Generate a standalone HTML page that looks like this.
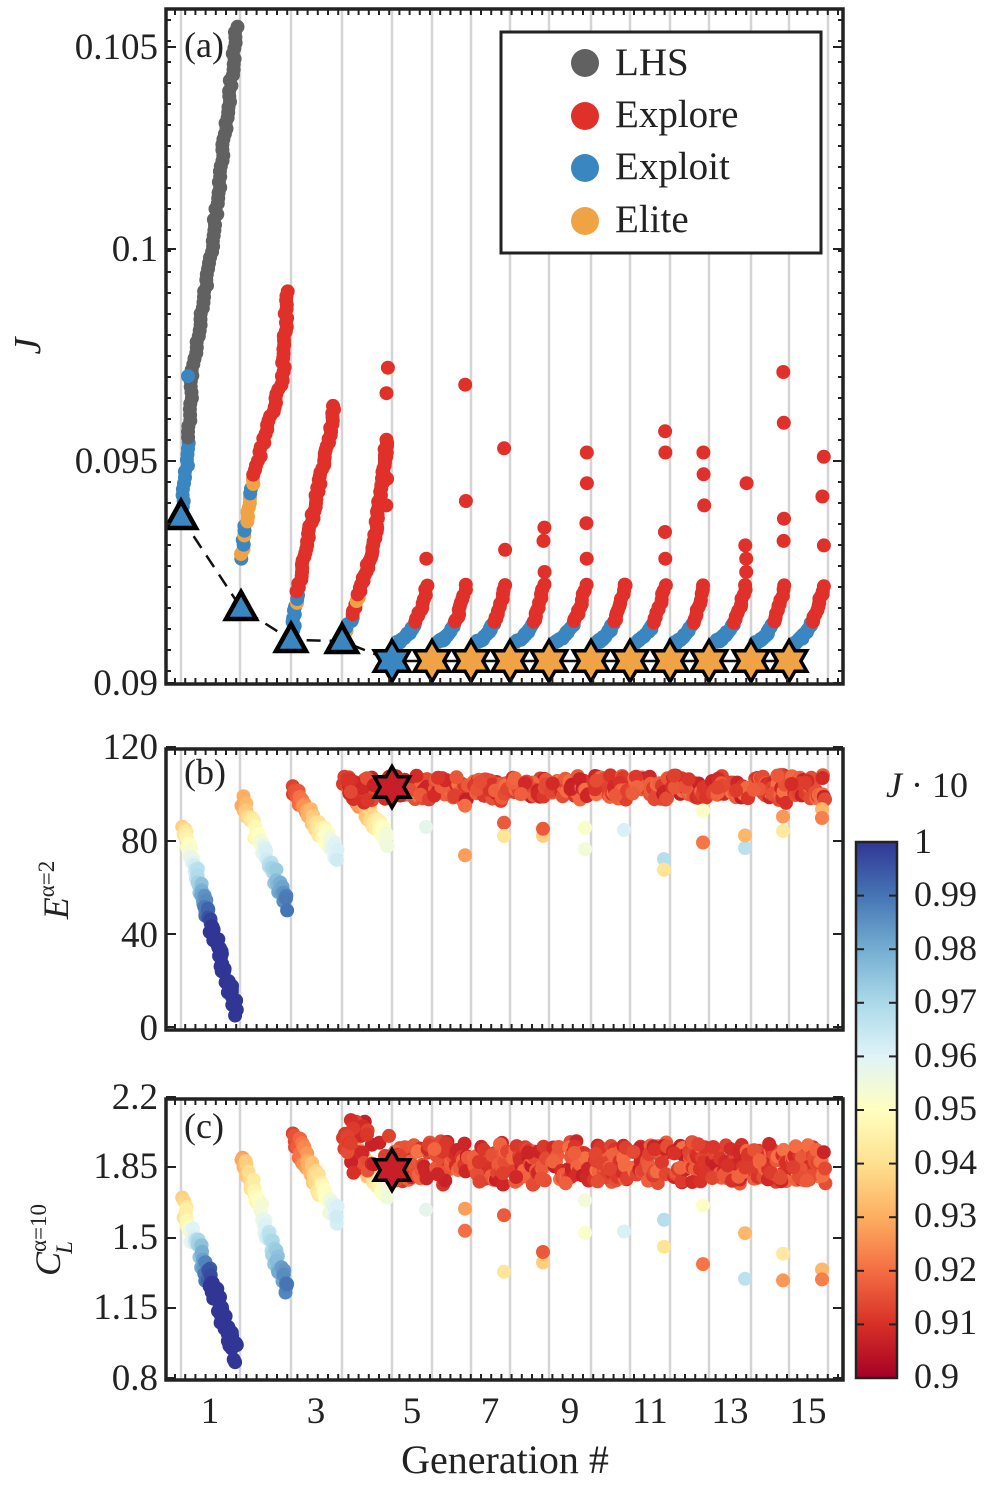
<!DOCTYPE html>
<html><head><meta charset="utf-8"><style>
body{margin:0;background:#fff}
svg text{font-family:"Liberation Serif",serif;fill:#222}
</style></head><body>
<svg id="s" width="996" height="1492" viewBox="0 0 996 1492" xmlns="http://www.w3.org/2000/svg">
<defs>
<linearGradient id="cb" x1="0" y1="1" x2="0" y2="0">
<stop offset="0" stop-color="#a50026"/><stop offset="0.1" stop-color="#d73027"/><stop offset="0.2" stop-color="#f46d43"/><stop offset="0.3" stop-color="#fdae61"/><stop offset="0.4" stop-color="#fee090"/><stop offset="0.5" stop-color="#ffffbf"/><stop offset="0.6" stop-color="#e0f3f8"/><stop offset="0.7" stop-color="#abd9e9"/><stop offset="0.8" stop-color="#74add1"/><stop offset="0.9" stop-color="#4575b4"/><stop offset="1" stop-color="#313695"/>
</linearGradient>
<clipPath id="ca"><rect x="166" y="9" width="677" height="675"/></clipPath>
<clipPath id="cbp"><rect x="166" y="749" width="677" height="281"/></clipPath>
<clipPath id="ccp"><rect x="166" y="1099" width="677" height="281"/></clipPath>
</defs>
<g id="grid"></g>
<g id="pa" clip-path="url(#ca)"></g>
<g id="pb" clip-path="url(#cbp)"></g>
<g id="pc" clip-path="url(#ccp)"></g>
<g id="frames" fill="none" stroke="#222" stroke-width="3.5">
<rect x="166" y="9" width="677" height="675"/>
<rect x="166" y="749" width="677" height="281"/>
<rect x="166" y="1099" width="677" height="281"/>
</g>
<g id="ticks" stroke="#222" stroke-width="2"></g>
<g font-size="37" text-anchor="end">
<text x="158" y="59">0.105</text><text x="158" y="261">0.1</text><text x="158" y="473">0.095</text><text x="158" y="695">0.09</text>
<text x="158" y="759">120</text><text x="158" y="853">80</text><text x="158" y="947">40</text><text x="158" y="1040">0</text>
<text x="158" y="1109">2.2</text><text x="158" y="1178">1.85</text><text x="158" y="1249">1.5</text><text x="158" y="1319">1.15</text><text x="158" y="1390">0.8</text>
</g>
<g font-size="37" text-anchor="middle">
<text x="210" y="1423">1</text><text x="316" y="1423">3</text><text x="412" y="1423">5</text><text x="490" y="1423">7</text><text x="570" y="1423">9</text><text x="650" y="1423">11</text><text x="730" y="1423">13</text><text x="808" y="1423">15</text>
<text x="505" y="1473" font-size="40">Generation #</text>
</g>
<text x="0" y="0" font-size="38" font-style="italic" transform="translate(40,346) rotate(-90)" text-anchor="middle">J</text>
<text font-size="36" transform="translate(68,890) rotate(-90)" text-anchor="middle"><tspan font-style="italic">E</tspan><tspan font-size="23" dy="-14">α=2</tspan></text>
<text font-size="36" transform="translate(60,1240) rotate(-90)" text-anchor="middle"><tspan font-style="italic">C</tspan><tspan font-size="23" dy="-14">α=10</tspan><tspan font-size="23" font-style="italic" dx="-50" dy="26">L</tspan></text>
<g font-size="36"><text x="184" y="57">(a)</text><text x="184" y="784">(b)</text><text x="184" y="1138">(c)</text></g>
<rect x="501" y="32" width="320" height="221" fill="#fff" stroke="#222" stroke-width="3"/>
<g font-size="39">
<circle cx="585" cy="63" r="14" fill="#616161"/><text x="615" y="75">LHS</text>
<circle cx="585" cy="116" r="14" fill="#e0302a"/><text x="615" y="127">Explore</text>
<circle cx="585" cy="168" r="14" fill="#3a86c0"/><text x="615" y="179">Exploit</text>
<circle cx="585" cy="221" r="14" fill="#f0a345"/><text x="615" y="232">Elite</text>
</g>
<rect x="856" y="842" width="41" height="536" fill="url(#cb)" stroke="#222" stroke-width="2.5"/>
<g id="cbt" stroke="#222" stroke-width="2"></g>
<g font-size="36">
<text x="914" y="853">1</text><text x="914" y="906">0.99</text><text x="914" y="960">0.98</text><text x="914" y="1013">0.97</text><text x="914" y="1067">0.96</text><text x="914" y="1120">0.95</text><text x="914" y="1174">0.94</text><text x="914" y="1227">0.93</text><text x="914" y="1281">0.92</text><text x="914" y="1334">0.91</text><text x="914" y="1388">0.9</text>
<text x="886" y="797"><tspan font-style="italic">J</tspan> · 10</text>
</g>
</svg>
<script>
(function(){
var NS="http://www.w3.org/2000/svg";
function el(p,t,a){var e=document.createElementNS(NS,t);for(var k in a)e.setAttribute(k,a[k]);p.appendChild(e);return e;}
var seed=12345;function r(){seed=(seed*1103515245+12345)%2147483648;return seed/2147483648;}
function g(id){return document.getElementById(id);}
var L=[181,240,291,342,392,432,471,510,549,591,630,670,709,751,789,828];
var grid=g("grid");
L.forEach(function(x){[[9,684],[749,1030],[1099,1380]].forEach(function(y){el(grid,"line",{x1:x,x2:x,y1:y[0],y2:y[1],stroke:"#d4d4d4","stroke-width":2.5});});});
var tk=g("ticks");
for(var x=175;x<843;x+=10.2){[684,1030,1380].forEach(function(y){el(tk,"line",{x1:x,x2:x,y1:y,y2:y-6});});[9,749,1099].forEach(function(y){el(tk,"line",{x1:x,x2:x,y1:y,y2:y+6});});}
[[47,249,461,683],[747,841,934,1027],[1097,1167,1238,1308,1378]].forEach(function(a){a.forEach(function(y){el(tk,"line",{x1:166,x2:176,y1:y,y2:y});el(tk,"line",{x1:843,x2:833,y1:y,y2:y});});});
for(var y=20;y<684;y+=21){el(tk,"line",{x1:166,x2:171,y1:y,y2:y});el(tk,"line",{x1:843,x2:838,y1:y,y2:y});}
var cbt=g("cbt");for(var i=0;i<=10;i++){var yy=842+i*53.6;el(cbt,"line",{x1:856,x2:864,y1:yy,y2:yy});el(cbt,"line",{x1:897,x2:889,y1:yy,y2:yy});}
function yA(J){if(J<=0.095)return 683-(J-0.09)/0.005*222;if(J<=0.1)return 461-(J-0.095)/0.005*212;return 249-(J-0.1)/0.005*202;}
function yB(E){return 1027-E*2.333;}
function yC(c){return 1378-(c-0.8)*200.7;}
var st=[[0,"#a50026"],[.1,"#d73027"],[.2,"#f46d43"],[.3,"#fdae61"],[.4,"#fee090"],[.5,"#ffffbf"],[.6,"#e0f3f8"],[.7,"#abd9e9"],[.8,"#74add1"],[.9,"#4575b4"],[1,"#313695"]];
function hx(h){return[parseInt(h.substr(1,2),16),parseInt(h.substr(3,2),16),parseInt(h.substr(5,2),16)];}
function cm(J){var t=(J-0.09)/0.01;t=Math.max(0,Math.min(1,t));for(var i=0;i<10;i++){if(t<=st[i+1][0]){var f=(t-st[i][0])/0.1,a=hx(st[i][1]),b=hx(st[i+1][1]);return"rgb("+a.map(function(v,k){return Math.round(v+(b[k]-v)*f);}).join(",")+")";}}return st[10][1];}
function interp(k,t){for(var i=0;i<k.length-1;i++){if(t<=k[i+1][0]){var f=(t-k[i][0])/(k[i+1][0]-k[i][0]);return k[i][1]+(k[i+1][1]-k[i][1])*f;}}return k[k.length-1][1];}
var pa=g("pa"),pb=g("pb"),pc=g("pc");
var G=[
 {n:90,J0:0.0937,J1:0.1055,kx:[[0.0937,181],[0.095,187],[0.097,192],[0.1,212],[0.1055,237]],blue:0.0955,cat:"lhs",E:[85,7],C:[1.65,0.92]},
 {n:60,J0:0.0928,J1:0.0990,kx:[[0.0928,241],[0.0945,252],[0.095,258],[0.097,283],[0.099,287]],blue:0.0944,cat:"ex",E:[98,52],C:[1.92,1.22]},
 {n:60,J0:0.0912,J1:0.0963,kx:[[0.0912,293],[0.092,297],[0.094,315],[0.096,333],[0.0963,334]],blue:0.0920,cat:"ex",E:[102,74],C:[2.0,1.6]},
 {n:60,J0:0.0911,J1:0.0955,kx:[[0.0911,345],[0.0915,352],[0.093,373],[0.095,385],[0.0955,386]],blue:0.0915,cat:"ex",E:[106,80],C:[2.0,1.72]}
];
var outl=[[],[],[],[0.0972,0.0966,0.0951,0.0946,0.0940],[0.0928],[0.0968,0.0941],[0.0953,0.0930],[0.0935,0.0932,0.0925],[0.0952,0.0945,0.0936,0.0928],[0.0922],[0.0957,0.0952,0.0934,0.0928],[0.0952,0.0947,0.0940],[0.0945,0.0931,0.0928,0.0925],[0.0971,0.0959,0.0937,0.0932],[0.0951,0.0942,0.0931,0.0920]];
var A=[],B=[],C=[];
G.forEach(function(d,gi){
 for(var i=0;i<d.n;i++){var t=i/(d.n-1);var J=d.J0+(d.J1-d.J0)*t;var x=interp(d.kx,J)+(r()-0.5)*3;
  var col=d.cat=="lhs"?(J<d.blue?"#3a86c0":"#616161"):(J<d.blue?"#3a86c0":"#e0302a");
  if(d.cat=="ex"&&J<d.blue+0.0006&&r()<0.25)col="#f0a345";
  if(gi==1&&J>0.0936&&J<0.0942)col="#f0a345";
  A.push([x,yA(J),col]);
  var xb=L[gi]+2+(L[gi+1]-L[gi]-6)*t+(r()-0.5)*4;
  var E=d.E[0]+(d.E[1]-d.E[0])*t+(r()-0.5)*6;
  var Cv=d.C[0]+(d.C[1]-d.C[0])*t+(r()-0.5)*0.1;
  B.push([xb,yB(E),cm(J)]);C.push([xb,yC(Cv),cm(J)]);
 }
});
A.push([188,yA(0.097),"#3a86c0"]);
for(var gi=3;gi<15;gi++){
 var l=L[gi],w=L[gi+1]-L[gi];
 if(gi>=4){for(var i=0;i<28;i++){var t=i/27;var x=l+5+(w-10)*t+(r()-0.5)*2;var J=0.0909+0.0004*t+0.0009*Math.pow(t,3)+(r()-0.5)*0.00005;
  var col=t<0.6?"#3a86c0":"#e0302a";if(i<2&&r()<0.5)col="#f0a345";A.push([x,yA(J),col]);
  var xb=l+3+(w-6)*t;var Jc=0.0906+0.0015*r();
  B.push([xb,yB(100+r()*8-4*t),cm(Jc)]);
  C.push([xb,yC(1.78+r()*0.18),cm(Jc)]);
  if(i%2==0){B.push([l+2+(w-4)*r(),yB(99+r()*9),cm(0.0907+0.0012*r())]);C.push([l+2+(w-4)*r(),yC(1.76+r()*0.22),cm(0.0907+0.0012*r())]);}
 }}
 outl[gi].forEach(function(J,k){A.push([l+w-5+(r()-0.5)*2,yA(J),"#e0302a"]);
  if(gi>3&&k<2){var xo=l+w-6;var Jo=0.091+0.006*r();B.push([xo,yB(65+r()*30),cm(Jo)]);C.push([xo,yC(1.25+r()*0.45),cm(Jo)]);}});
}
for(var i=0;i<30;i++){var x=345+45*r();B.push([x,yB(96+r()*12),cm(0.0906+0.001*r())]);C.push([x,yC(1.8+r()*0.3),cm(0.0906+0.001*r())]);}
A.forEach(function(p){el(pa,"circle",{cx:p[0].toFixed(1),cy:p[1].toFixed(1),r:7,fill:p[2]});});
B.forEach(function(p){el(pb,"circle",{cx:p[0].toFixed(1),cy:p[1].toFixed(1),r:7,fill:p[2]});});
C.forEach(function(p){el(pc,"circle",{cx:p[0].toFixed(1),cy:p[1].toFixed(1),r:7,fill:p[2]});});
var tri=[[181,517],[241,608],[291,640],[342,641]];
el(pa,"polyline",{points:tri.map(function(p){return p.join(",");}).join(" ")+" 392,661",fill:"none",stroke:"#111","stroke-width":2.5,"stroke-dasharray":"14,9"});
var stars=[392,432,471,510,549,591,630,670,709,751,789];
el(pa,"line",{x1:392,x2:789,y1:661,y2:661,stroke:"#111","stroke-width":2.5});
tri.forEach(function(p){var x=p[0],y=p[1];el(pa,"polygon",{points:(x)+","+(y-16)+" "+(x+15)+","+(y+11)+" "+(x-15)+","+(y+11),fill:"#3a86c0",stroke:"#000","stroke-width":4.5,"stroke-linejoin":"miter"});});
function star(par,x,y,c){var s=17,h=s*0.866;var a=x+","+(y-s)+" "+(x+h)+","+(y+s/2)+" "+(x-h)+","+(y+s/2);var b=x+","+(y+s)+" "+(x+h)+","+(y-s/2)+" "+(x-h)+","+(y-s/2);
 el(par,"polygon",{points:a,fill:"none",stroke:"#000","stroke-width":7});el(par,"polygon",{points:b,fill:"none",stroke:"#000","stroke-width":7});
 el(par,"polygon",{points:a,fill:c});el(par,"polygon",{points:b,fill:c});}
stars.forEach(function(x,i){star(pa,x,661,i==0?"#3a86c0":"#f0a345");});
star(pb,392,787,"#c81e2a");star(pc,392,1170,"#c81e2a");
})();
</script>
</body></html>
